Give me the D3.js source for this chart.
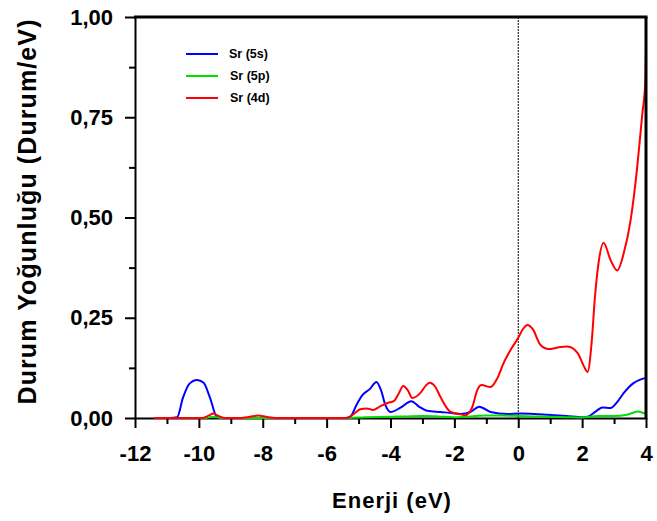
<!DOCTYPE html>
<html><head><meta charset="utf-8">
<script src="https://cdn.jsdelivr.net/npm/d3@7"></script>
<style>body{margin:0;background:#fff}svg{font-family:Arial,"Liberation Sans",sans-serif}</style>
</head><body><svg id="c" width="657" height="521"></svg>
<script>
const xTicks = [-12,-10,-8,-6,-4,-2,0,2,4];
const xTickLabels = ["-12","-10","-8","-6","-4","-2","0","2","4"];
const yTicks = [0,0.25,0.5,0.75,1.0];
const yTickLabels = ["0,00","0,25","0,50","0,75","1,00"];
const seriesNames = ["Sr (5s)","Sr (5p)","Sr (4d)"];
const seriesColors = ["#0000ff","#00e000","#ff0000"];
const yTitle = "Durum Yoğunluğu (Durum/eV)";
const xTitle = "Enerji (eV)";

const s5 = [[-11.4,0],[-10.9,0],[-10.68,0.002],[-10.5,0.05],[-10.3,0.085],[-10.06,0.095],[-9.85,0.088],[-9.65,0.05],[-9.43,0.002],[-9.2,0],[-5.4,0],[-5.25,0.004],[-5.05,0.035],[-4.88,0.057],[-4.65,0.072],[-4.44,0.09],[-4.3,0.07],[-4.15,0.03],[-4.0,0.015],[-3.7,0.025],[-3.35,0.042],[-3.1,0.028],[-2.85,0.018],[-2.44,0.015],[-2.03,0.012],[-1.81,0.01],[-1.5,0.015],[-1.22,0.028],[-0.87,0.015],[-0.34,0.01],[0.07,0.011],[0.5,0.01],[0.91,0.008],[1.5,0.005],[2.04,0.002],[2.2,0.004],[2.45,0.018],[2.64,0.026],[2.89,0.025],[3.1,0.04],[3.3,0.062],[3.61,0.087],[3.8,0.095],[4.0,0.1]];
const p5 = [[-11.4,0],[-9.8,0],[-9.55,0.003],[-9.3,0],[-5.3,0],[-4.8,0.002],[-4.0,0.003],[-3.5,0.004],[-3.0,0.005],[-2.5,0.004],[-2.0,0.002],[-1.5,0.004],[-1.0,0.006],[-0.5,0.006],[0.0,0.005],[0.5,0.004],[1.0,0.003],[1.5,0.002],[2.0,0.001],[2.5,0.005],[3.0,0.005],[3.4,0.008],[3.74,0.016],[3.9,0.013],[4.0,0.01]];
const d4 = [[-11.4,0],[-9.9,0],[-9.7,0.006],[-9.55,0.011],[-9.4,0.006],[-9.2,0],[-8.7,0],[-8.4,0.003],[-8.14,0.006],[-7.9,0.003],[-7.6,0],[-5.35,0],[-5.15,0.01],[-4.95,0.022],[-4.75,0.024],[-4.54,0.02],[-4.3,0.03],[-4.07,0.038],[-3.9,0.042],[-3.75,0.06],[-3.6,0.08],[-3.45,0.068],[-3.32,0.05],[-3.07,0.062],[-2.9,0.08],[-2.78,0.088],[-2.6,0.078],[-2.44,0.053],[-2.13,0.016],[-1.81,0.009],[-1.66,0.007],[-1.45,0.025],[-1.28,0.07],[-1.15,0.082],[-0.87,0.077],[-0.65,0.1],[-0.46,0.137],[-0.2,0.175],[0.0,0.2],[0.15,0.222],[0.29,0.232],[0.45,0.222],[0.7,0.182],[0.95,0.172],[1.25,0.176],[1.54,0.178],[1.86,0.162],[2.05,0.13],[2.17,0.115],[2.3,0.19],[2.4,0.3],[2.52,0.39],[2.67,0.437],[2.89,0.394],[3.1,0.368],[3.3,0.41],[3.52,0.494],[3.73,0.63],[3.88,0.755],[3.98,0.84],[4.0,0.92]];
const seriesData = [s5,p5,d4];

const svg = d3.select("#c");
const m = {l:135,r:646,t:17,b:418};
const x = d3.scaleLinear().domain([-12,4]).range([m.l,m.r]);
const y = d3.scaleLinear().domain([0,1]).range([m.b,m.t]);

// minor ticks
const xMinor = svg.append("g").attr("transform",`translate(0,${m.b})`)
  .call(d3.axisBottom(x).tickValues(d3.range(-11,4,2)).tickSize(6).tickFormat(()=>""));
xMinor.select(".domain").remove();
const yMinor = svg.append("g").attr("transform",`translate(${m.l},0)`)
  .call(d3.axisLeft(y).tickValues([0.125,0.375,0.625,0.875]).tickSize(6).tickFormat(()=>""));
yMinor.select(".domain").remove();

// major axes
const xAx = svg.append("g").attr("transform",`translate(0,${m.b})`)
  .call(d3.axisBottom(x).tickValues(xTicks).tickSize(10).tickSizeOuter(0).tickFormat((d,i)=>xTickLabels[i]));
const yAx = svg.append("g").attr("transform",`translate(${m.l},0)`)
  .call(d3.axisLeft(y).tickValues(yTicks).tickSize(10).tickSizeOuter(0).tickFormat((d,i)=>yTickLabels[i]));
svg.selectAll(".tick line").attr("stroke","#000").attr("stroke-width",2);
svg.selectAll(".domain").attr("stroke","#000").attr("stroke-width",2);
xAx.selectAll("text").attr("font-size",22).attr("font-weight","bold").attr("y",27).attr("fill","#000");
yAx.selectAll("text").attr("font-size",22).attr("font-weight","bold").attr("x",-22).attr("fill","#000");

// zero dotted line
svg.append("line").attr("x1",x(0)).attr("x2",x(0)).attr("y1",m.t).attr("y2",m.b)
  .attr("stroke","#000").attr("stroke-width",1).attr("stroke-dasharray","2,1");

// curves
const line = d3.line().x(d=>x(d[0])).y(d=>y(d[1])).curve(d3.curveMonotoneX);
seriesData.forEach((s,i)=>{
  svg.append("path").datum(s).attr("d",line).attr("fill","none")
    .attr("stroke",seriesColors[i]).attr("stroke-width",2);
});

// frame top/right
svg.append("line").attr("x1",m.l-1).attr("x2",m.r+1.5).attr("y1",m.t).attr("y2",m.t).attr("stroke","#000").attr("stroke-width",3);
svg.append("line").attr("x1",m.r).attr("x2",m.r).attr("y1",m.t).attr("y2",m.b+1).attr("stroke","#000").attr("stroke-width",3);

// legend
const ly = [54,76,98];
seriesNames.forEach((n,i)=>{
  svg.append("line").attr("x1",186).attr("x2",218).attr("y1",ly[i]).attr("y2",ly[i])
    .attr("stroke",seriesColors[i]).attr("stroke-width",2);
  svg.append("text").attr("x",229+ (i>0?1:0)).attr("y",ly[i]).attr("dy","0.35em")
    .attr("font-size",12.5).attr("font-weight","bold").text(n);
});

// titles
svg.append("text").attr("x",392).attr("y",508).attr("text-anchor","middle")
  .attr("font-size",22).attr("font-weight","bold").attr("letter-spacing",1).text(xTitle);
svg.append("text").attr("transform","translate(36,212) rotate(-90)").attr("text-anchor","middle")
  .attr("font-size",25).attr("font-weight","bold")
  .attr("textLength",385).attr("lengthAdjust","spacing").text(yTitle);
</script></body></html>
